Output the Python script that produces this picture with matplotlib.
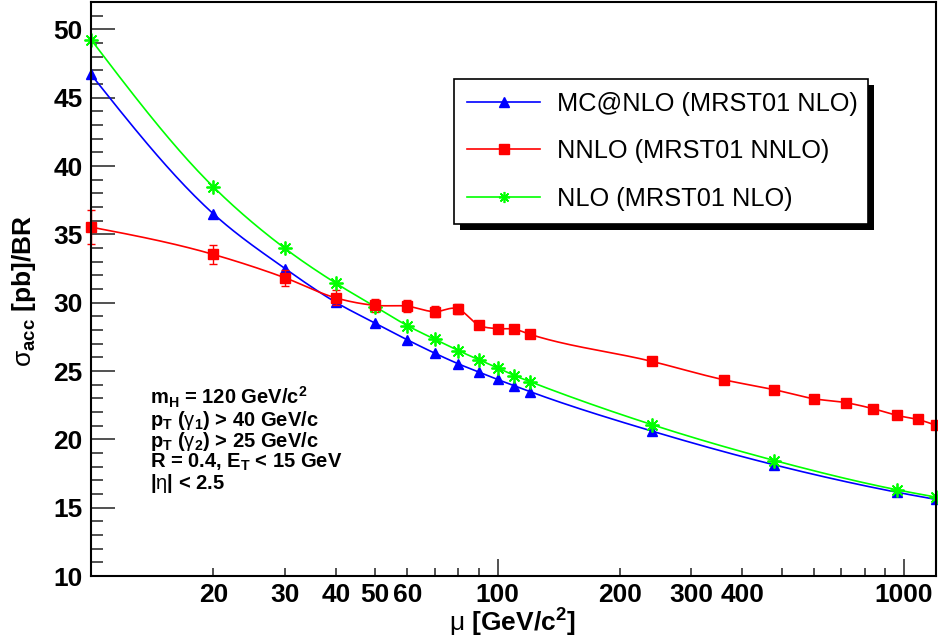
import numpy as np
import matplotlib
matplotlib.use('Agg')
import matplotlib.pyplot as plt
from matplotlib.ticker import FixedLocator, FixedFormatter
from matplotlib.lines import Line2D
from matplotlib.patches import Rectangle

plt.rcParams['font.family'] = ['Liberation Sans', 'DejaVu Sans']
plt.rcParams['mathtext.fontset'] = 'custom'
plt.rcParams['mathtext.rm'] = 'Liberation Sans:bold'
plt.rcParams['mathtext.it'] = 'Liberation Sans:bold'
plt.rcParams['mathtext.bf'] = 'Liberation Sans:bold'
plt.rcParams['mathtext.sf'] = 'Liberation Sans'

# scale mu [GeV/c^2]
mu_nlo = [10, 20, 30, 40, 50, 60, 70, 80, 90, 100, 110, 120, 240, 480, 960, 1200]
mc_nlo = [46.7, 36.5, 32.5, 30.03, 28.5, 27.28, 26.31, 25.53, 24.92, 24.38,
          23.92, 23.50, 20.6, 18.13, 16.13, 15.6]
nlo = [49.25, 38.47, 33.97, 31.43, 29.71, 28.32, 27.33, 26.50, 25.82, 25.23,
       24.67, 24.23, 21.07, 18.45, 16.31, 15.77]

mu_nnlo = [10, 20, 30, 40, 50, 60, 70, 80, 90, 100, 110, 120,
           240, 360, 480, 600, 720, 840, 960, 1080, 1200]
nnlo = [35.53, 33.53, 31.82, 30.35, 29.8, 29.74, 29.34, 29.54, 28.35, 28.10,
        28.06, 27.69, 25.7, 24.36, 23.63, 22.97, 22.68, 22.24, 21.75, 21.46, 21.02]
nnlo_err = [1.25, 0.7, 0.6, 0.55, 0.5, 0.45, 0.4, 0.35, 0.3, 0.3,
            0.3, 0.3, 0.2, 0.2, 0.2, 0.2, 0.2, 0.2, 0.2, 0.2, 0.2]

labels = ['MC@NLO (MRST01 NLO)', 'NNLO (MRST01 NNLO)', 'NLO (MRST01 NLO)']

xticks_major = [100, 1000]
xticks_minor = [20, 30, 40, 50, 60, 70, 80, 90, 200, 300, 400, 500, 600, 700, 800, 900]
xminor_labels = ['20', '30', '40', '50', '60', '', '', '', '200', '300', '400', '', '', '', '', '']

cuts = [r'm$_{H}$ = 120 GeV/c$^{2}$',
        r'p$_{T}$ ($\mathsf{\gamma}_{1}$) > 40 GeV/c',
        r'p$_{T}$ ($\mathsf{\gamma}_{2}$) > 25 GeV/c',
        r'R = 0.4, E$_{T}$ < 15 GeV',
        r'|$\mathsf{\eta}$| < 2.5']


def smooth(x, y, n=40):
    # cubic hermite through the points, in log(x)
    t = np.log10(np.asarray(x, float))
    y = np.asarray(y, float)
    h = np.diff(t)
    d = np.diff(y) / h
    m = np.empty_like(y)
    m[1:-1] = (d[:-1] * h[1:] + d[1:] * h[:-1]) / (h[:-1] + h[1:])
    m[0] = 1.5 * d[0] - 0.5 * m[1]
    m[-1] = 1.5 * d[-1] - 0.5 * m[-2]
    s = np.linspace(0, 1, n)
    h00 = 2 * s**3 - 3 * s**2 + 1
    h10 = s**3 - 2 * s**2 + s
    h01 = -2 * s**3 + 3 * s**2
    h11 = s**3 - s**2
    ts, ys = [], []
    for i in range(len(h)):
        ts.append(t[i] + s * h[i])
        ys.append(h00 * y[i] + h10 * h[i] * m[i] + h01 * y[i + 1] + h11 * h[i] * m[i + 1])
    return 10 ** np.concatenate(ts), np.concatenate(ys)


fig = plt.figure(figsize=(9.38, 6.40), dpi=100)
ax = fig.add_axes([91 / 938, 1 - 576 / 640, 844.5 / 938, 574 / 640])

blue, red, green = '#0000ff', '#ff0000', '#00ff00'
star = (8, 2, 0)

xs, ys = smooth(mu_nlo, mc_nlo)
ax.plot(xs, ys, color=blue, lw=1.2)
ax.plot(mu_nlo, mc_nlo, ls='none', marker='^', ms=7.5, color=blue, clip_on=False)

xs, ys = smooth(mu_nnlo, nnlo)
ax.plot(xs, ys, color=red, lw=1.2)
ax.errorbar(mu_nnlo, nnlo, yerr=nnlo_err, fmt='s', ms=7.5, color=red,
            elinewidth=1, capsize=3, capthick=1, clip_on=False)

xs, ys = smooth(mu_nlo, nlo)
ax.plot(xs, ys, color=green, lw=1.2)
ax.plot(mu_nlo, nlo, ls='none', marker=star, ms=10, mew=1.3, color=green, clip_on=False)

ax.set_xscale('log')
ax.set_xlim(10, 1195)
ax.set_ylim(10, 52)

ax.xaxis.set_major_locator(FixedLocator(xticks_major))
ax.xaxis.set_major_formatter(FixedFormatter(['100', '1000']))
ax.xaxis.set_minor_locator(FixedLocator(xticks_minor))
ax.xaxis.set_minor_formatter(FixedFormatter(xminor_labels))
ax.yaxis.set_major_locator(FixedLocator(np.arange(10, 51, 5)))
ax.yaxis.set_minor_locator(FixedLocator(np.arange(10, 53, 1)))

ax.tick_params(axis='both', which='both', direction='in', top=False, right=False,
               labelsize=19, width=1.1, color='#222222')
ax.tick_params(axis='y', which='major', length=17.5, pad=6)
ax.tick_params(axis='y', which='minor', length=8.7)
ax.tick_params(axis='x', which='major', length=12.2, pad=5)
ax.tick_params(axis='x', which='minor', length=5.8, pad=5)
for lab in ax.get_xticklabels(which='both') + ax.get_yticklabels():
    lab.set_fontweight('bold')
for sp in ax.spines.values():
    sp.set_linewidth(1.5)

ax.set_ylabel(r'$\mathsf{\sigma}_{acc}$ [pb]/BR', fontsize=19, fontweight='bold')
ax.yaxis.set_label_coords(-0.063, 0.497)
ax.set_xlabel(r'$\mathsf{\mu}$ [GeV/c$^{2}$]', fontsize=19, fontweight='bold')
ax.xaxis.set_label_coords(0.4985, -0.054)

handles = [Line2D([], [], color=blue, lw=1.2, marker='^', ms=6.5),
           Line2D([], [], color=red, lw=1.2, marker='s', ms=6.5),
           Line2D([], [], color=green, lw=1.2, marker=star, ms=8, mew=1.2)]
leg = ax.legend(handles, labels, loc='upper left',
                bbox_to_anchor=(454 / 938, 1 - 79 / 640, 414 / 938, 0),
                bbox_transform=fig.transFigure, mode='expand', borderaxespad=0,
                fontsize=18.3, frameon=True, fancybox=False, edgecolor='black',
                handlelength=2.9, handletextpad=0.64, labelspacing=0.93,
                borderpad=0.5, numpoints=1)
leg.get_frame().set_linewidth(1.2)
leg.get_frame().set_alpha(1)
leg.set_zorder(6)

# black drop shadow behind the legend box
fig.canvas.draw()
bb = leg.get_window_extent()
shadow = Rectangle((bb.x0 + 6, bb.y0 - 6), bb.width, bb.height, transform=None,
                   facecolor='black', edgecolor='none', zorder=5, clip_on=False)
ax.add_patch(shadow)

base_y = [404, 426, 447, 468, 489]
for txt, yb in zip(cuts, base_y):
    fig.text(150 / 938, 1 - yb / 640, txt, fontsize=14.5, fontweight='bold', va='baseline')

fig.savefig('out.png', dpi=100)
